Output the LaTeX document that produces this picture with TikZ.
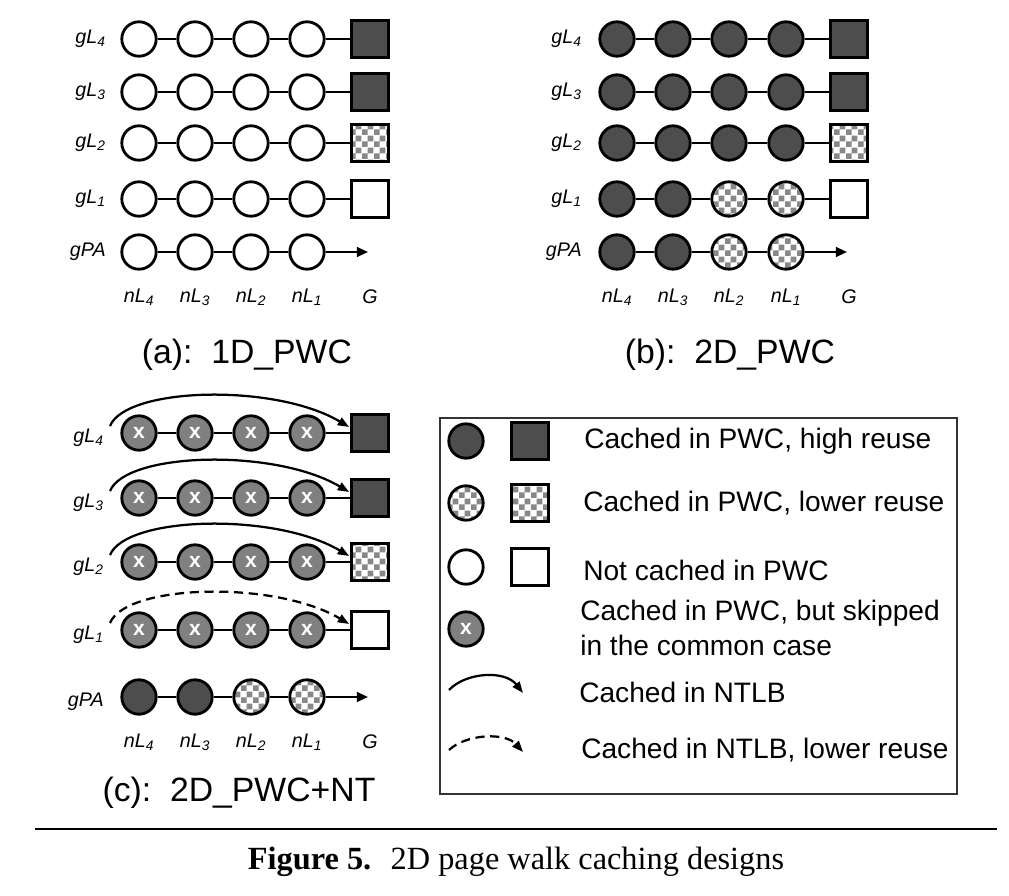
\documentclass[tikz,border=0pt]{standalone}
\usepackage{fontspec}
\setmainfont{Liberation Sans}
\newfontfamily\szeryf{Liberation Serif}
\usepackage{tikz}
\usetikzlibrary{arrows.meta, patterns.meta, calc}

\definecolor{ciemny}{RGB}{77,77,77}
\definecolor{sredni}{RGB}{128,128,128}
\definecolor{szachy}{RGB}{136,136,136}
\definecolor{ramkowy}{RGB}{51,51,51}

\pgfdeclarepattern{
  name=kratka,
  type=uncolored,
  bottom left={\pgfpoint{0pt}{0pt}},
  top right={\pgfpoint{8.6pt}{8.6pt}},
  tile size={\pgfpoint{8.6pt}{8.6pt}},
  code={
    \pgfpathrectangle{\pgfpoint{0pt}{0pt}}{\pgfpoint{4.3pt}{4.3pt}}
    \pgfpathrectangle{\pgfpoint{4.3pt}{4.3pt}}{\pgfpoint{4.3pt}{4.3pt}}
    \pgfusepath{fill}
  }
}

\tikzset{
  wezel/.style={circle, draw, line width=2pt, minimum size=0.86cm, inner sep=0pt},
  pelny/.style={fill=ciemny},
  krata/.style={preaction={fill=white}, pattern=kratka, pattern color=szachy},
  pusty/.style={fill=white},
  pominiety/.style={wezel, fill=sredni, text=white, font=\fontsize{15}{15}\selectfont\bfseries},
  kwadrat/.style={rectangle, draw, line width=2pt, minimum size=0.925cm, inner sep=0pt},
  krawedz/.style={line width=1.6pt},
  strzalka/.style={line width=1.6pt, -{Triangle[length=8pt,width=7pt]}},
  luk/.style={line width=1.6pt, -{Triangle[length=8pt,width=6pt]}},
  lukprzer/.style={luk, dash pattern=on 6.5pt off 4pt},
  etykieta/.style={font=\fontsize{14}{14}\selectfont\itshape, inner sep=0pt},
  podpis/.style={font=\fontsize{24}{24}\selectfont},
  opis/.style={font=\fontsize{20}{25}\selectfont, anchor=west, align=left, inner sep=0pt},
}

\begin{document}
\begin{tikzpicture}[x=0.025cm, y=-0.025cm]
  \useasboundingbox (0,0) rectangle (1009,896);

  % Panel (a)
  \foreach \rz/\y/\sty in {4/39/pelny, 3/92/pelny, 2/143/krata, 1/199/pusty}{
    \node[etykieta, anchor=east] (aE\rz) at (106,\y) {gL\textsubscript{\rz}};
    \foreach \kl/\x in {4/139, 3/195, 2/251, 1/307}
      \node[wezel, pusty] (a\rz\kl) at (\x,\y) {};
    \node[kwadrat, \sty] (aG\rz) at (370,\y) {};
    \draw[krawedz] (a\rz4) -- (a\rz3) -- (a\rz2) -- (a\rz1) -- (aG\rz);
  }
  \node[etykieta, anchor=east] (aEP) at (106,252) {gPA};
  \foreach \kl/\x in {4/139, 3/195, 2/251, 1/307}
    \node[wezel, pusty] (aP\kl) at (\x,252) {};
  \coordinate (aKoniec) at (368,252);
  \draw[krawedz] (aP4) -- (aP3) -- (aP2) -- (aP1);
  \draw[strzalka] (aP1) -- (aKoniec);
  \foreach \kl/\x in {4/139, 3/195, 2/251, 1/307}
    \node[etykieta] (aN\kl) at (\x,297) {nL\textsubscript{\kl}};
  \node[etykieta] (aNG) at (370,297) {G};
  \node[podpis] (aTyt) at (247,355) {(a):\ \ 1D\_PWC};

  % Panel (b)
  \foreach \rz/\y/\sty in {4/39/pelny, 3/92/pelny, 2/143/krata}{
    \node[etykieta, anchor=east] (bE\rz) at (582,\y) {gL\textsubscript{\rz}};
    \foreach \kl/\x in {4/617, 3/673, 2/729, 1/786}
      \node[wezel, pelny] (b\rz\kl) at (\x,\y) {};
    \node[kwadrat, \sty] (bG\rz) at (849,\y) {};
    \draw[krawedz] (b\rz4) -- (b\rz3) -- (b\rz2) -- (b\rz1) -- (bG\rz);
  }
  \node[etykieta, anchor=east] (bE1) at (582,199) {gL\textsubscript{1}};
  \node[etykieta, anchor=east] (bEP) at (582,252) {gPA};
  \foreach \kl/\x/\sty in {4/617/pelny, 3/673/pelny, 2/729/krata, 1/786/krata}{
    \node[wezel, \sty] (b1\kl) at (\x,199) {};
    \node[wezel, \sty] (bP\kl) at (\x,252) {};
  }
  \node[kwadrat, pusty] (bG1) at (849,199) {};
  \coordinate (bKoniec) at (847,252);
  \draw[krawedz] (b14) -- (b13) -- (b12) -- (b11) -- (bG1);
  \draw[krawedz] (bP4) -- (bP3) -- (bP2) -- (bP1);
  \draw[strzalka] (bP1) -- (bKoniec);
  \foreach \kl/\x in {4/617, 3/673, 2/729, 1/786}
    \node[etykieta] (bN\kl) at (\x,297) {nL\textsubscript{\kl}};
  \node[etykieta] (bNG) at (849,297) {G};
  \node[podpis] (bTyt) at (730,355) {(b):\ \ 2D\_PWC};

  % Panel (c)
  \foreach \rz/\y/\sty/\lk in {4/433/pelny/luk, 3/498/pelny/luk, 2/562/krata/luk, 1/630/pusty/lukprzer}{
    \node[etykieta, anchor=east] (cE\rz) at (104,\y+5) {gL\textsubscript{\rz}};
    \foreach \kl/\x in {4/139, 3/195, 2/251, 1/307}
      \node[pominiety] (c\rz\kl) at (\x,\y) {x};
    \node[kwadrat, \sty] (cG\rz) at (370,\y) {};
    \draw[krawedz] (c\rz4) -- (c\rz3) -- (c\rz2) -- (c\rz1) -- (cG\rz);
    \coordinate (cS\rz) at (110,\y-7);
    \draw[\lk] (cS\rz) .. controls (126,\y-46) and (275,\y-50) .. ($(cG\rz.west)+(-1,-6)$);
  }
  \node[etykieta, anchor=east] (cEP) at (104,702) {gPA};
  \foreach \kl/\x/\sty in {4/139/pelny, 3/195/pelny, 2/251/krata, 1/307/krata}
    \node[wezel, \sty] (cP\kl) at (\x,697) {};
  \coordinate (cKoniec) at (368,697);
  \draw[krawedz] (cP4) -- (cP3) -- (cP2) -- (cP1);
  \draw[strzalka] (cP1) -- (cKoniec);
  \foreach \kl/\x in {4/139, 3/195, 2/251, 1/307}
    \node[etykieta] (cN\kl) at (\x,742) {nL\textsubscript{\kl}};
  \node[etykieta] (cNG) at (370,742) {G};
  \node[podpis] (cTyt) at (239,793) {(c):\ \ 2D\_PWC+NT};

  % Legenda
  \draw[ramkowy, line width=1.2pt] (440,418) rectangle (957,794);
  \node[wezel, pelny] (lK1) at (466,441) {};
  \node[kwadrat, pelny] (lQ1) at (530,441) {};
  \node[opis] (lT1) at (584,441) {Cached in PWC, high reuse};
  \node[wezel, krata] (lK2) at (466,503) {};
  \node[kwadrat, krata] (lQ2) at (530,503) {};
  \node[opis] (lT2) at (583,503) {Cached in PWC, lower reuse};
  \node[wezel, pusty] (lK3) at (466,567) {};
  \node[kwadrat, pusty] (lQ3) at (530,567) {};
  \node[opis] (lT3) at (583,570) {Not cached in PWC};
  \node[pominiety] (lK4) at (466,629) {x};
  \node[opis] (lT4) at (580,628) {Cached in PWC, but skipped\\in the common case};
  \coordinate (lA1) at (449,690);
  \coordinate (lB1) at (523,693);
  \draw[luk] (lA1) .. controls (466,672) and (505,670) .. (lB1);
  \node[opis] (lT5) at (579,692) {Cached in NTLB};
  \coordinate (lA2) at (449,750);
  \coordinate (lB2) at (523,752);
  \draw[lukprzer] (lA2) .. controls (466,734) and (505,732) .. (lB2);
  \node[opis] (lT6) at (581,750) {Cached in NTLB, lower reuse};

  % Podpis rysunku
  \coordinate (rL) at (35,829);
  \coordinate (rP) at (997,829);
  \draw[line width=1.4pt] (rL) -- (rP);
  \node[font=\szeryf\fontsize{23}{23}\selectfont] (fig) at (516,862)
    {\textbf{Figure 5.}\hspace{0.6em}2D page walk caching designs};
\end{tikzpicture}
\end{document}
